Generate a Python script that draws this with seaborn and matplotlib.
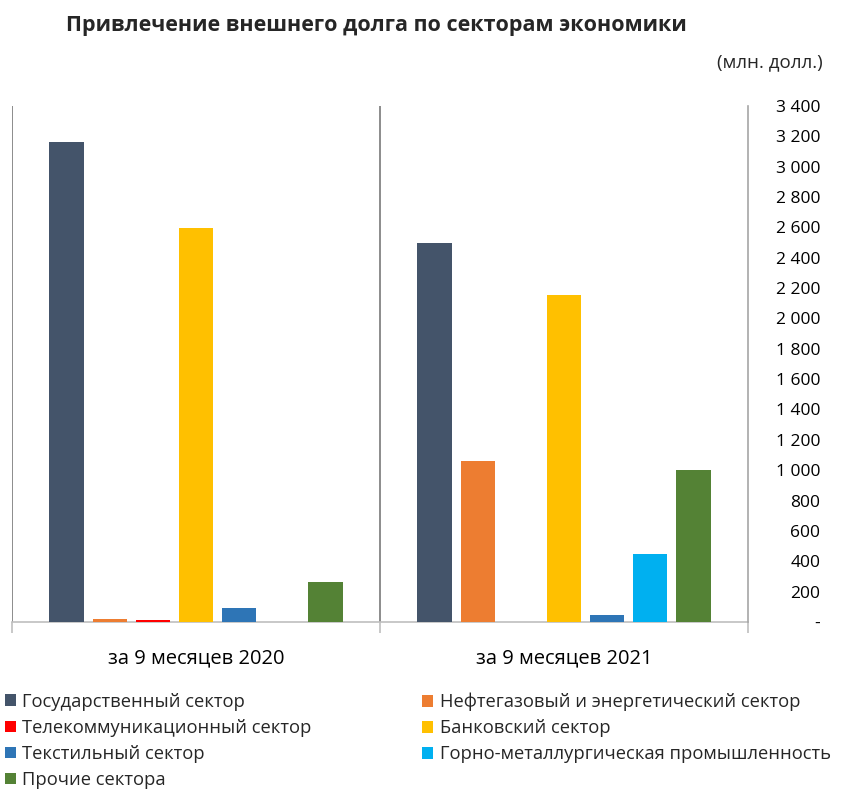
"""External borrowing by economic sector, 9 months 2020 vs 2021."""

import matplotlib.pyplot as plt
import pandas as pd
import seaborn as sns
from matplotlib.ticker import FixedLocator, FuncFormatter

sns.set_theme(style="white")
plt.rcParams["font.family"] = ["Open Sans", "DejaVu Sans"]

periods = ["за 9 месяцев 2020", "за 9 месяцев 2021"]
sectors = [
    "Государственный сектор",
    "Нефтегазовый и энергетический сектор",
    "Телекоммуникационный сектор",
    "Банковский сектор",
    "Текстильный сектор",
    "Горно-металлургическая промышленность",
    "Прочие сектора",
]
values_2020 = [3165, 20, 15, 2598, 92, 0, 262]
values_2021 = [2498, 1060, 0, 2155, 46, 447, 1003]
colors = ["#44546A", "#ED7D31", "#FF0000", "#FFC000", "#2E75B6", "#00B0F0", "#548235"]

frame = pd.DataFrame(
    {
        "period": [periods[0]] * len(sectors) + [periods[1]] * len(sectors),
        "sector": sectors * 2,
        "value": values_2020 + values_2021,
    }
)


def thousands(value, _):
    if value == 0:
        return "-"
    return f"{value:,.0f}".replace(",", " ")


fig = plt.figure(figsize=(8.41, 7.89), dpi=100)
ax = fig.add_axes([0.0143, 0.2117, 0.8751, 0.654])

sns.barplot(
    data=frame,
    x="period",
    y="value",
    hue="sector",
    hue_order=sectors,
    order=periods,
    palette=colors,
    width=0.82,
    gap=0.2,
    saturation=1,
    linewidth=0,
    ax=ax,
)
for patch in ax.patches:
    patch.set_zorder(3)

ax.set_xlim(-0.5, 1.5)
ax.set_ylim(0, 3400)
ax.set_xlabel("")
ax.set_ylabel("")

for spine in ["top", "left"]:
    ax.spines[spine].set_visible(False)
ax.spines["bottom"].set_color("#BFBFBF")
ax.spines["bottom"].set_linewidth(1.2)
ax.spines["bottom"].set_zorder(1)
ax.spines["right"].set_color("#A6A6A6")
ax.spines["right"].set_linewidth(1.2)

for xpos in [-0.5, 0.5]:
    ax.axvline(xpos, color="#8C8C8C", linewidth=1.4, zorder=0)

ax.yaxis.tick_right()
ax.set_yticks(range(0, 3401, 200))
ax.yaxis.set_major_formatter(FuncFormatter(thousands))
ax.tick_params(axis="y", length=0, pad=52, labelsize=12.5, labelcolor="black")
for label in ax.get_yticklabels():
    label.set_horizontalalignment("right")

ax.xaxis.set_minor_locator(FixedLocator([-0.5, 0.5, 1.5]))
ax.tick_params(axis="x", which="major", length=0, pad=19, labelsize=14.5, labelcolor="black")
ax.tick_params(axis="x", which="minor", length=8, width=1.2, color="#BFBFBF", bottom=True)

handles, labels = ax.get_legend_handles_labels()
ax.legend_.remove()

left_idx = [0, 2, 4, 6]
right_idx = [1, 3, 5]
legend_kw = dict(
    frameon=False,
    fontsize=13.2,
    handlelength=0.6,
    handleheight=0.6,
    handletextpad=0.35,
    labelspacing=0.44,
    borderaxespad=0,
    borderpad=0,
)
fig.legend(
    [handles[i] for i in left_idx],
    [labels[i] for i in left_idx],
    loc="upper left",
    bbox_to_anchor=(0.006, 0.122),
    **legend_kw,
)
fig.legend(
    [handles[i] for i in right_idx],
    [labels[i] for i in right_idx],
    loc="upper left",
    bbox_to_anchor=(0.502, 0.122),
    **legend_kw,
)

fig.text(
    0.447,
    0.968,
    "Привлечение внешнего долга по секторам экономики",
    ha="center",
    va="center",
    fontsize=15.5,
    fontweight="bold",
)
fig.text(0.978, 0.921, "(млн. долл.)", ha="right", va="center", fontsize=13.5)

fig.savefig("out.png", dpi=100)
plt.close(fig)
